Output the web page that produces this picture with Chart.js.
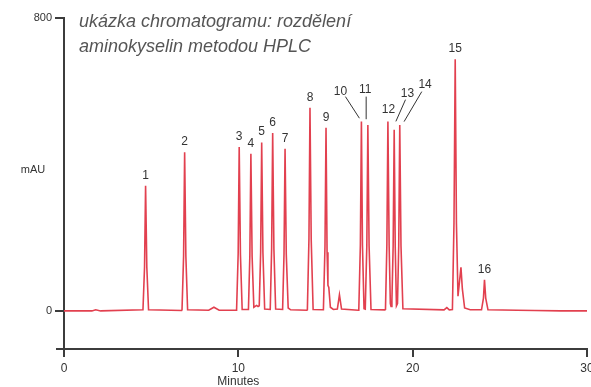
<!DOCTYPE html>
<html>
<head>
<meta charset="utf-8">
<script src="https://cdn.jsdelivr.net/npm/chart.js@4/dist/chart.umd.min.js"></script>
<style>
  html, body { margin: 0; padding: 0; background: #ffffff; }
  #wrap { width: 591px; height: 387px; }
</style>
</head>
<body>
<div id="wrap"><canvas id="c" width="591" height="387"></canvas></div>
<script>
// ---- data ----
const titleLines = ['ukázka chromatogramu: rozdělení', 'aminokyselin metodou HPLC'];
const yAxisLabel = 'mAU';
const xAxisLabel = 'Minutes';
const xTicks = [0, 10, 20, 30];
const yTicks = [0, 800];

// detector trace: retention time (min) and signal (mAU)
const minutes = [
  0, 1.6, 1.82, 2.1,
  4.53, 4.62, 4.68, 4.75, 4.85,
  6.78, 6.77, 6.86, 6.92, 6.99, 7.09,
  8.3, 8.6, 8.9, 9.88,
  9.90, 9.99, 10.05, 10.12, 10.22,
  10.58, 10.66, 10.72, 10.79, 10.89, 11.05, 11.13,
  11.20, 11.28, 11.34, 11.41, 11.51,
  11.83, 11.91, 11.97, 12.04, 12.14,
  12.54, 12.62, 12.68, 12.75, 12.86, 13.0,
  13.93, 13.96, 14.05, 14.11, 14.18, 14.29,
  14.85, 14.88, 14.97, 15.03, 15.09, 15.14, 15.19, 15.28, 15.45,
  15.68, 15.80, 15.92,
  16.88, 16.91, 17.00, 17.06, 17.12, 17.21,
  17.28, 17.37, 17.43, 17.50, 17.61,
  18.40, 18.44, 18.52, 18.58, 18.65, 18.72, 18.76,
  18.81, 18.88, 18.94, 19.00, 19.07,
  19.13, 19.20, 19.26, 19.33, 19.44,
  21.8, 21.96, 22.1,
  22.28, 22.37, 22.44, 22.51, 22.60, 22.77, 22.85, 22.98, 23.3,
  23.95, 24.06, 24.12, 24.19, 24.32,
  26.0, 27.0, 28.5, 30.0
];
const mAU = [
  0, 0, 3, 0,
  3, 120, 342, 120, 3,
  1, 3, 150, 433, 150, 3,
  2, 10, 2, 2,
  3, 155, 448, 155, 4,
  4, 150, 429, 150, 10, 15, 12,
  14, 160, 460, 160, 5,
  4, 170, 486, 170, 5,
  4, 155, 443, 155, 8, 3,
  2, 3, 195, 555, 195, 4,
  3, 3, 175, 500, 160, 70, 64, 10, 4,
  5, 44, 5,
  2, 3, 180, 517, 180, 6,
  5, 178, 508, 178, 4,
  3, 4, 180, 517, 180, 20, 12,
  30, 175, 495, 175, 14,
  20, 178, 508, 178, 6,
  3, 9, 3,
  4, 240, 687, 240, 40, 119, 60, 8, 3,
  3, 35, 85, 35, 3,
  2, 1, 0, 0
];

// numbered peaks: label, apex time, apex height
const peakLabels  = ['1','2','3','4','5','6','7','8','9','10','11','12','13','14','15','16'];
const peakMinutes = [4.68, 6.92, 10.05, 10.72, 11.34, 11.97, 12.68, 14.11, 15.03, 17.06, 17.43, 18.58, 18.94, 19.26, 22.44, 24.12];
const peakHeights = [342, 433, 448, 429, 460, 486, 443, 555, 500, 517, 508, 517, 495, 508, 687, 85];

// ---- layout / style: label offsets (px) from the apex; leader start is relative
// to the label centre, leader end relative to the apex ----
const labelOffsets = {
  '10': { dx: -21, dy: -30, lead: [[5, 5], [-2, -3.4]] },
  '11': { dx: -2.7, dy: -35.7, lead: [[1, 7.4], [-1.7, -5.7]] },
  '12': { dx: 0.6, dy: -11.7 },
  '13': { dx: 13.3, dy: -36, lead: [[-2, 6], [1.7, -8.3]] },
  '14': { dx: 25.3, dy: -40, lead: [[-3.3, 6.7], [4.3, -3.3]] }
};
const defaultLabelDy = -10.5;
const axisColor = '#3c3c3c';
const lineColor = '#e2404f';
const tickFont = "'Liberation Sans Narrow', 'Liberation Sans', Arial, sans-serif";

const decor = {
  id: 'decor',
  afterDraw(chart) {
    const ctx = chart.ctx;
    const xs = chart.scales.x, ys = chart.scales.y;
    const area = chart.chartArea;
    ctx.save();
    // title
    ctx.fillStyle = '#555555';
    ctx.font = "italic 18px 'Liberation Sans', Arial, sans-serif";
    ctx.textAlign = 'left';
    ctx.textBaseline = 'alphabetic';
    ctx.fillText(titleLines[0], 79, 27);
    ctx.fillText(titleLines[1], 79, 52);
    // axis titles
    ctx.fillStyle = '#333333';
    ctx.font = "11px " + tickFont;
    ctx.textAlign = 'center';
    ctx.textBaseline = 'middle';
    ctx.fillText(yAxisLabel, 33, 170);
    ctx.font = "12px " + tickFont;
    ctx.fillText(xAxisLabel, xs.getPixelForValue(10), 382);
    // y ticks, x-axis stub left of the y axis, y-axis stub below the x axis
    ctx.fillStyle = axisColor;
    yTicks.forEach(v => {
      const py = Math.round(ys.getPixelForValue(v));
      ctx.fillRect(area.left - 9, py - 1, 9, 2);
    });
    ctx.fillRect(area.left - 8, area.bottom - 1, 8, 2);
    ctx.fillRect(area.left - 1, area.bottom, 2, 4);
    // peak labels
    ctx.font = "12px " + tickFont;
    ctx.fillStyle = '#333333';
    ctx.lineWidth = 1;
    ctx.strokeStyle = '#333333';
    peakLabels.forEach((lab, i) => {
      const px = xs.getPixelForValue(peakMinutes[i]);
      const py = ys.getPixelForValue(peakHeights[i]);
      const o = labelOffsets[lab] || { dx: 0, dy: defaultLabelDy };
      const lx = px + o.dx, ly = py + o.dy;
      ctx.fillText(lab, lx, ly);
      if (o.lead) {
        ctx.beginPath();
        ctx.moveTo(lx + o.lead[0][0], ly + o.lead[0][1]);
        ctx.lineTo(px + o.lead[1][0], py + o.lead[1][1]);
        ctx.stroke();
      }
    });
    ctx.restore();
  }
};

new Chart(document.getElementById('c'), {
  type: 'line',
  data: {
    datasets: [{
      data: minutes.map((m, i) => ({ x: m, y: mAU[i] })),
      borderColor: lineColor,
      borderWidth: 1.6,
      pointRadius: 0,
      tension: 0,
      fill: false
    }]
  },
  options: {
    responsive: false,
    animation: false,
    layout: { padding: { top: 18, right: 4, left: 0, bottom: 0 } },
    plugins: { legend: { display: false }, tooltip: { enabled: false } },
    scales: {
      x: {
        type: 'linear',
        min: 0, max: 30,
        afterBuildTicks: s => { s.ticks = xTicks.map(v => ({ value: v })); },
        afterFit: s => { s.height = 38; s.paddingLeft = 0; s.paddingRight = 0; },
        border: { display: true, color: axisColor, width: 2 },
        grid: { drawOnChartArea: false, drawTicks: true, tickLength: 8, color: axisColor, lineWidth: 2 },
        ticks: { color: '#333333', font: { family: tickFont, size: 12 }, padding: 4, maxRotation: 0 }
      },
      y: {
        min: -104, max: 800,
        afterBuildTicks: s => { s.ticks = yTicks.map(v => ({ value: v })); },
        afterFit: s => { s.width = 64; s.paddingTop = 0; s.paddingBottom = 0; },
        border: { display: true, color: axisColor, width: 2 },
        grid: { drawOnChartArea: false, drawTicks: false, color: axisColor, lineWidth: 2 },
        ticks: { color: '#333333', font: { family: tickFont, size: 11 }, padding: 12 }
      }
    }
  },
  plugins: [decor]
});
</script>
</body>
</html>
